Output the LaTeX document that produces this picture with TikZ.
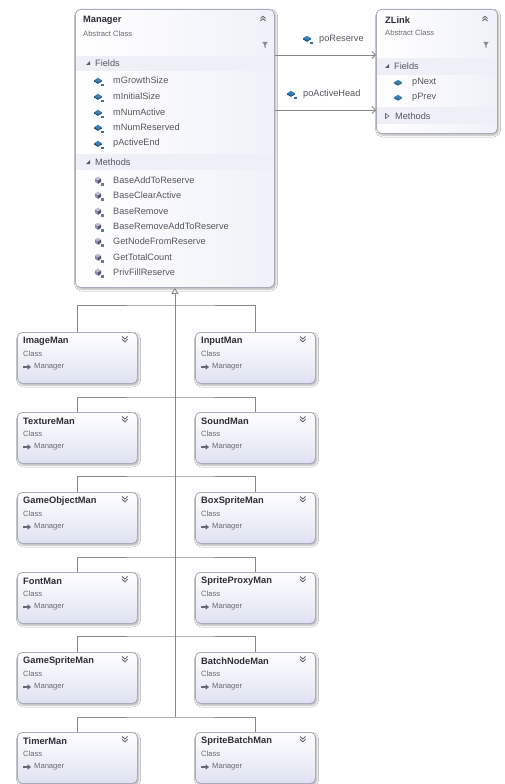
\documentclass[tikz,border=0pt]{standalone}
\usepackage{fontspec}
\setmainfont{Liberation Sans}
\usetikzlibrary{arrows.meta,shadows.blur,calc}

\definecolor{boxedge}{RGB}{168,172,186}
\definecolor{boxtint}{RGB}{222,225,241}
\definecolor{bandfill}{RGB}{239,240,247}
\definecolor{wirecol}{RGB}{135,135,140}
\definecolor{titlecol}{RGB}{45,45,55}
\definecolor{subcol}{RGB}{105,105,115}
\definecolor{itemcol}{RGB}{85,85,95}
\definecolor{fieldblue}{RGB}{50,130,185}
\definecolor{fielddark}{RGB}{25,70,115}
\definecolor{methodcol}{RGB}{140,135,170}
\definecolor{methoddark}{RGB}{85,80,120}

\tikzset{
  x=1pt, y=-1pt,
  boxbase/.style={draw=boxedge, line width=0.8pt, rounded corners=5pt,
    anchor=north west, inner sep=0pt,
    blur shadow={shadow xshift=1.2pt, shadow yshift=-1.6pt,
      shadow blur radius=2pt, shadow opacity=35}},
  bigbox/.style={boxbase, left color=white, right color=boxtint!45},
  childbox/.style={boxbase, top color=white, bottom color=boxtint,
    minimum width=120, minimum height=51},
  txt/.style={anchor=west, inner sep=0pt},
  titletxt/.style={txt, font=\fontsize{9.3}{11}\selectfont\bfseries, text=titlecol},
  subtxt/.style={txt, font=\fontsize{7.6}{9}\selectfont, text=subcol},
  itemtxt/.style={txt, font=\fontsize{9.2}{10}\selectfont, text=itemcol},
  wire/.style={draw=wirecol, line width=0.8pt},
  assoc/.style={wire, -{Straight Barb[length=3.5pt, width=7pt, line width=0.8pt]}},
  % protected field: blue prism with a small key mark
  fieldico/.pic={
    \fill[fieldblue] (-3.8,0.2) -- (0,-2.2) -- (3.8,0.2) -- (0,2.4) -- cycle;
    \fill[fielddark] (-3.8,0.2) -- (0,2.4) -- (0,3.8) -- (-3.8,1.6) -- cycle;
    \fill[fieldblue!70!black] (0,2.4) -- (3.8,0.2) -- (3.8,1.6) -- (0,3.8) -- cycle;
    \fill[fielddark!80] (3.2,3.6) rectangle (5.8,6.0);
  },
  % public field: plain blue prism
  pubfieldico/.pic={
    \fill[fieldblue] (-3.8,0.2) -- (0,-2.2) -- (3.8,0.2) -- (0,2.4) -- cycle;
    \fill[fielddark] (-3.8,0.2) -- (0,2.4) -- (0,3.6) -- (-3.8,1.4) -- cycle;
    \fill[fieldblue!70!black] (0,2.4) -- (3.8,0.2) -- (3.8,1.4) -- (0,3.6) -- cycle;
  },
  % method: small cube with a marker
  methodico/.pic={
    \fill[methodcol!55] (-3,-1.5) -- (0,-3.5) -- (3,-1.5) -- (0,0.5) -- cycle;
    \fill[methodcol] (-3,-1.5) -- (0,0.5) -- (0,3.8) -- (-3,1.8) -- cycle;
    \fill[methoddark] (0,0.5) -- (3,-1.5) -- (3,1.8) -- (0,3.8) -- cycle;
    \fill[fielddark!70] (3.2,3.4) rectangle (5.6,5.8);
  },
  % header icons
  collapseico/.pic={
    \draw[subcol, line width=0.9pt] (-2.5,0.5) -- (0,-1.8) -- (2.5,0.5);
    \draw[subcol, line width=0.9pt] (-2.5,3) -- (0,0.7) -- (2.5,3);
  },
  expandico/.pic={
    \draw[subcol, line width=0.9pt] (-2.8,-2.5) -- (0,0) -- (2.8,-2.5);
    \draw[subcol, line width=0.9pt] (-2.8,0.3) -- (0,2.8) -- (2.8,0.3);
  },
  filterico/.pic={
    \fill[subcol!80] (-2.6,-3) -- (2.6,-3) -- (0.7,0) -- (0.7,3) -- (-0.7,2.2) -- (-0.7,0) -- cycle;
  },
  openedtri/.pic={
    \fill[titlecol!80] (2,-2) -- (2,2) -- (-2,2) -- cycle;
  },
  closedtri/.pic={
    \draw[subcol, line width=0.6pt] (-1.5,-2.5) -- (2,0) -- (-1.5,2.5) -- cycle;
  },
  inheritico/.pic={
    \draw[subcol, line width=1.2pt, -{Triangle[length=3.5pt, width=5.5pt]}] (0,0) -- (8,0);
  },
}

\begin{document}
\begin{tikzpicture}
\useasboundingbox[fill=white] (0,0) rectangle (505,784);

% ---------- Manager (abstract base) ----------
\node[bigbox, minimum width=199, minimum height=278] (manager) at (75,9) {};
\fill[bandfill] (75.6,56) rectangle (273.4,71);
\fill[bandfill] (75.6,154) rectangle (273.4,170);
\node[titletxt] (manager-title) at (83,20) {Manager};
\node[subtxt] (manager-kind) at (83,34) {Abstract Class};
\pic at (263,18) {collapseico};
\pic at (265,45) {filterico};
\pic at (88,63) {openedtri};
\node[itemtxt] (manager-fields) at (95,63) {Fields};
\foreach \yy/\nm in {80/mGrowthSize, 96/mInitialSize, 112/mNumActive,
                     127/mNumReserved, 143/pActiveEnd}{
  \pic at (98,\yy) {fieldico};
  \node[itemtxt] (fld-\nm) at (113,\yy) {\nm};
}
\pic at (88,162) {openedtri};
\node[itemtxt] (manager-methods) at (95,162) {Methods};
\foreach \yy/\nm in {180/BaseAddToReserve, 195/BaseClearActive, 211/BaseRemove,
                     226/BaseRemoveAddToReserve, 241/GetNodeFromReserve,
                     257/GetTotalCount, 272/PrivFillReserve}{
  \pic at (98,\yy) {methodico};
  \node[itemtxt] (mth-\nm) at (113,\yy) {\nm};
}

% ---------- ZLink ----------
\node[bigbox, minimum width=121, minimum height=124] (zlink) at (376,9) {};
\fill[bandfill] (376.6,58) rectangle (496.4,75);
\fill[bandfill] (376.6,107) rectangle (496.4,124);
\node[titletxt] (zlink-title) at (385,20) {ZLink};
\node[subtxt] (zlink-kind) at (385,33) {Abstract Class};
\pic at (485,18) {collapseico};
\pic at (486,45) {filterico};
\pic at (387,66) {openedtri};
\node[itemtxt] (zlink-fields) at (394,66) {Fields};
\pic at (398,82) {pubfieldico};
\node[itemtxt] (fld-pNext) at (412,82) {pNext};
\pic at (398,97) {pubfieldico};
\node[itemtxt] (fld-pPrev) at (412,97) {pPrev};
\pic at (387,116) {closedtri};
\node[itemtxt] (zlink-methods) at (395,116) {Methods};

% ---------- associations Manager -> ZLink ----------
\coordinate (rsvrow) at (320,55);
\coordinate (actrow) at (320,110);
\draw[assoc] (manager.east |- rsvrow) -- (zlink.west |- rsvrow);
\draw[assoc] (manager.east |- actrow) -- (zlink.west |- actrow);
\pic at (307,38) {fieldico};
\node[itemtxt] (rsv-label) at (319,39) {poReserve};
\pic at (291,93) {fieldico};
\node[itemtxt] (act-label) at (303,94) {poActiveHead};

% ---------- derived managers ----------
\foreach \nm/\r/\cx in {ImageMan/0/17, InputMan/0/195,
                        TextureMan/1/17, SoundMan/1/195,
                        GameObjectMan/2/17, BoxSpriteMan/2/195,
                        FontMan/3/17, SpriteProxyMan/3/195,
                        GameSpriteMan/4/17, BatchNodeMan/4/195,
                        TimerMan/5/17, SpriteBatchMan/5/195}{
  \node[childbox] (\nm) at (\cx,{332+80*\r}) {};
  \node[titletxt] (\nm-title) at ($(\nm.north west)+(6,9)$) {\nm};
  \node[subtxt] (\nm-kind) at ($(\nm.north west)+(6,22)$) {Class};
  \pic at ($(\nm.north west)+(6,35)$) {inheritico};
  \node[subtxt] (\nm-base) at ($(\nm.north west)+(17,35)$) {Manager};
  \pic at ($(\nm.north east)+(-13,7)$) {expandico};
}

% ---------- inheritance tree ----------
\foreach \k/\yy/\a/\b in {1/305/ImageMan/InputMan, 2/397/TextureMan/SoundMan,
                          3/476/GameObjectMan/BoxSpriteMan, 4/557/FontMan/SpriteProxyMan,
                          5/636/GameSpriteMan/BatchNodeMan, 6/717/TimerMan/SpriteBatchMan}{
  \coordinate (j\k) at (manager.south |- 0,\yy);
  \draw[wire] (\a.north) |- (j\k) -| (\b.north);
}
\draw[wire, -{Triangle[open, length=6pt, width=7pt, line width=0.8pt]}] (j6) -- (manager.south);
\end{tikzpicture}
\end{document}
